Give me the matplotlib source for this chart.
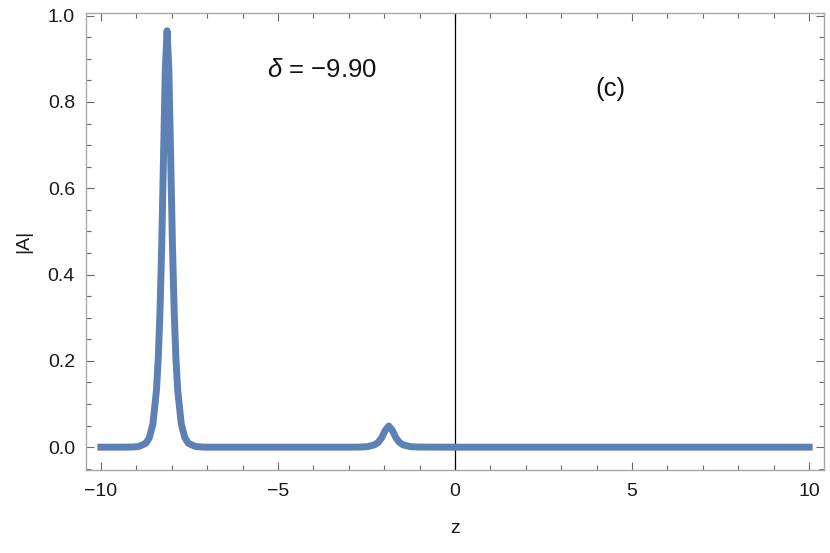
import matplotlib
matplotlib.use("Agg")
import matplotlib.pyplot as plt
from matplotlib.ticker import MultipleLocator, FormatStrFormatter

plt.rcParams['font.family'] = ['Liberation Sans', 'DejaVu Sans']
plt.rcParams['mathtext.fontset'] = 'custom'
plt.rcParams['mathtext.it'] = 'Liberation Sans:italic'
plt.rcParams['mathtext.rm'] = 'Liberation Sans'

# |A| profile
z = [-10.0, -9.33, -9.13, -8.93, -8.73, -8.63, -8.53, -8.43, -8.38, -8.33,
     -8.28, -8.23, -8.18, -8.13, -8.08, -8.03, -7.98, -7.93, -7.88, -7.83,
     -7.73, -7.63, -7.53, -7.33, -7.13, -6.93,
     -3.0, -2.67, -2.47, -2.27, -2.17, -2.07, -1.97, -1.87, -1.77, -1.67,
     -1.57, -1.47, -1.27, -1.07, 0.0, 5.0, 10.0]
absA = [0.0, 0.0001, 0.0003, 0.0015, 0.009, 0.022, 0.054, 0.132, 0.205, 0.314,
        0.473, 0.676, 0.876, 0.965, 0.876, 0.676, 0.473, 0.314, 0.205, 0.132,
        0.054, 0.022, 0.009, 0.0015, 0.0003, 0.0,
        0.0, 0.0003, 0.0013, 0.0056, 0.011, 0.022, 0.039, 0.049, 0.039, 0.022,
        0.011, 0.0056, 0.0013, 0.0003, 0.0, 0.0, 0.0]

delta_label = r"$\delta$ = −9.90"
panel_label = "(c)"
x_label = "z"
y_label = "|A|"

fig = plt.figure(figsize=(8.30, 5.53), dpi=100)
ax = fig.add_axes([0.1036, 0.150, 0.8892, 0.8256])

ax.plot(z, absA, color='#5E81B5', lw=5.0, solid_joinstyle='round',
        solid_capstyle='projecting', zorder=3)
ax.axvline(0, color='black', lw=0.9, zorder=2)

ax.set_xlim(-10.42, 10.42)
ax.set_ylim(-0.053, 1.005)

ax.xaxis.set_major_locator(MultipleLocator(5))
ax.xaxis.set_minor_locator(MultipleLocator(1))
ax.yaxis.set_major_locator(MultipleLocator(0.2))
ax.yaxis.set_minor_locator(MultipleLocator(0.05))
ax.yaxis.set_major_formatter(FormatStrFormatter('%.1f'))

for s in ax.spines.values():
    s.set_color('#a8a8a8')
    s.set_linewidth(1.0)

ax.tick_params(which='both', direction='in', top=True, right=True,
               color='#6a6a6a', width=0.8, labelcolor='#1a1a1a', labelsize=14)
ax.tick_params(which='major', length=5.8)
ax.tick_params(which='minor', length=3.6)
ax.tick_params(axis='y', pad=8)
ax.tick_params(axis='x', pad=9)

ax.set_xlabel(x_label, fontsize=14, color='#1a1a1a', labelpad=15)
ax.set_ylabel(y_label, fontsize=14, color='#1a1a1a', labelpad=11)

ax.text(-3.75, 0.875, delta_label, fontsize=18.5, ha='center', va='center', color='#111111')
ax.text(4.4, 0.83, panel_label, fontsize=18.5, ha='center', va='center', color='#111111')

fig.savefig('out.png', dpi=100)
